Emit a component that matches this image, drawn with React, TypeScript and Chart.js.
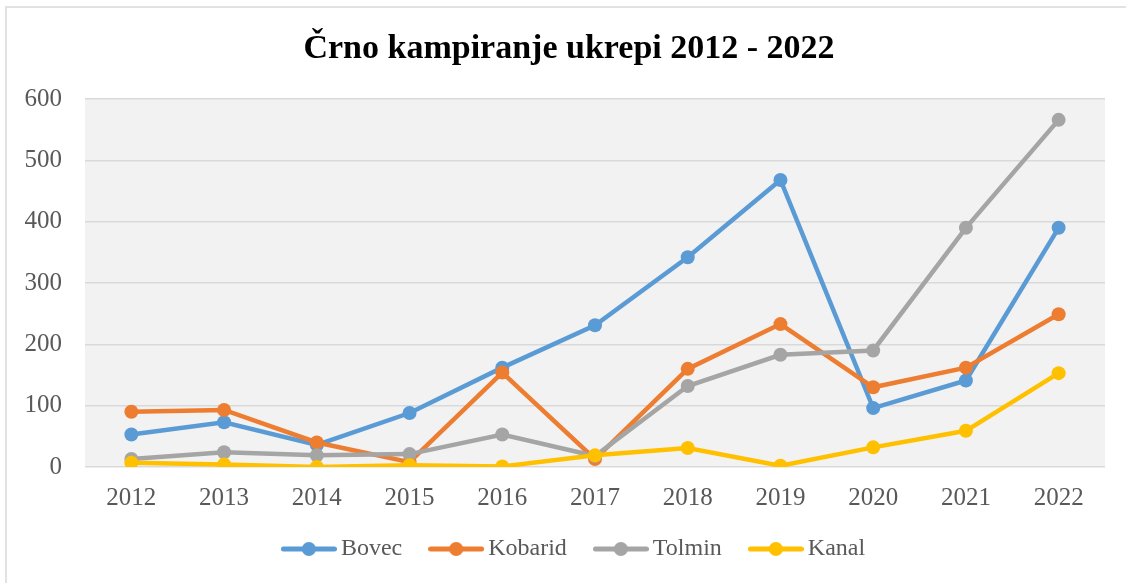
import React, { useEffect, useRef } from "react";
import { Chart, registerables } from "chart.js";

Chart.register(...registerables);

const years = ["2012", "2013", "2014", "2015", "2016", "2017", "2018", "2019", "2020", "2021", "2022"];
const bovec = [53, 73, 36, 88, 162, 231, 342, 468, 96, 141, 390];
const kobarid = [90, 93, 40, 8, 154, 13, 160, 233, 130, 162, 249];
const tolmin = [13, 24, 19, 21, 53, 18, 132, 183, 190, 390, 566];
const kanal = [7, 4, 0, 3, 1, 19, 31, 2, 32, 59, 153];

const seriesNames = ["Bovec", "Kobarid", "Tolmin", "Kanal"];
const seriesColors = ["#5B9BD5", "#ED7D31", "#A5A5A5", "#FFC000"];
const titleText = "Črno kampiranje ukrepi 2012 - 2022";
const yTicks = [0, 100, 200, 300, 400, 500, 600];

const FONT = "'Liberation Serif', 'Times New Roman', serif";

function makeLegendImage(color: string): HTMLCanvasElement {
  const c = document.createElement("canvas");
  c.width = 56;
  c.height = 16;
  const ctx = c.getContext("2d")!;
  ctx.strokeStyle = color;
  ctx.lineWidth = 5;
  ctx.lineCap = "round";
  ctx.beginPath();
  ctx.moveTo(2.5, 8);
  ctx.lineTo(53.5, 8);
  ctx.stroke();
  ctx.fillStyle = color;
  ctx.beginPath();
  ctx.arc(28, 8, 7, 0, Math.PI * 2);
  ctx.fill();
  return c;
}

export default function App() {
  const ref = useRef<HTMLCanvasElement | null>(null);

  useEffect(() => {
    if (!ref.current) return;
    const legendImgs = seriesColors.map(makeLegendImage);
    const values = [bovec, kobarid, tolmin, kanal];

    const bgPlugin = {
      id: "bgPlugin",
      beforeDraw(chart: any) {
        const { ctx, chartArea, width, height } = chart;
        ctx.save();
        ctx.fillStyle = "#ffffff";
        ctx.fillRect(0, 0, width, height);
        ctx.strokeStyle = "#D9D9D9";
        ctx.lineWidth = 1.5;
        ctx.beginPath();
        ctx.moveTo(6, height + 5);
        ctx.lineTo(6, 7);
        ctx.lineTo(width + 5, 7);
        ctx.stroke();
        ctx.fillStyle = "#F2F2F2";
        ctx.fillRect(chartArea.left, chartArea.top, chartArea.right - chartArea.left, chartArea.bottom - chartArea.top);
        ctx.restore();
      },
      afterLayout(chart: any) {
        if (chart.legend) {
          chart.legend.left += 24.5;
          chart.legend.right += 24.5;
          chart.legend.top -= 12;
          chart.legend.bottom -= 12;
        }
        if (chart.titleBlock) {
          chart.titleBlock.left += 16.5;
          chart.titleBlock.right += 16.5;
        }
      },
    };

    const chart = new Chart(ref.current, {
      type: "line",
      data: {
        labels: years,
        datasets: seriesNames.map((name, i) => ({
          label: name,
          data: values[i],
          borderColor: seriesColors[i],
          backgroundColor: seriesColors[i],
          pointBackgroundColor: seriesColors[i],
          pointBorderColor: seriesColors[i],
          borderWidth: 4.5,
          pointRadius: 7,
          pointBorderWidth: 0,
          tension: 0,
          order: seriesNames.length - 1 - i,
        })),
      },
      options: {
        responsive: false,
        animation: false,
        devicePixelRatio: 1,
        layout: { padding: { left: 0, right: 21, top: 0, bottom: 0 } },
        plugins: {
          title: {
            display: true,
            text: titleText,
            color: "#000000",
            font: { family: FONT, size: 34, weight: "bold", lineHeight: 1.2 },
            padding: { top: 28.5, bottom: 29.7 },
          },
          legend: {
            display: true,
            position: "bottom",
            labels: {
              usePointStyle: true,
              pointStyleWidth: 40,
              padding: 34,
              color: "#595959",
              font: { family: FONT, size: 24 },
              sort: (a: any, b: any) => a.datasetIndex - b.datasetIndex,
              generateLabels: (ch: any) => {
                const items = (Chart.defaults.plugins.legend.labels as any).generateLabels(ch);
                items.forEach((it: any) => {
                  it.pointStyle = legendImgs[it.datasetIndex];
                });
                return items;
              },
            },
          },
          tooltip: { enabled: false },
        },
        scales: {
          x: {
            offset: true,
            grid: { display: false, drawTicks: false },
            border: { display: false },
            ticks: { color: "#595959", font: { family: FONT, size: 25 }, padding: 16.5, maxRotation: 0 },
            afterFit: (scale: any) => {
              scale.height = 48;
            },
          },
          y: {
            min: yTicks[0],
            max: yTicks[yTicks.length - 1],
            afterBuildTicks: (scale: any) => {
              scale.ticks = yTicks.map((v) => ({ value: v }));
            },
            grid: { color: "#D9D9D9", lineWidth: 1.5, drawTicks: false },
            border: { display: false },
            ticks: { color: "#595959", font: { family: FONT, size: 25 }, padding: 23 },
            afterFit: (scale: any) => {
              scale.width = 85;
            },
          },
        },
      },
      plugins: [bgPlugin],
    } as any);

    return () => chart.destroy();
  }, []);

  return (
    <div style={{ position: "absolute", left: 0, top: 0, width: 1126, height: 583 }}>
      <canvas ref={ref} width={1126} height={583} style={{ display: "block" }} />
    </div>
  );
}
